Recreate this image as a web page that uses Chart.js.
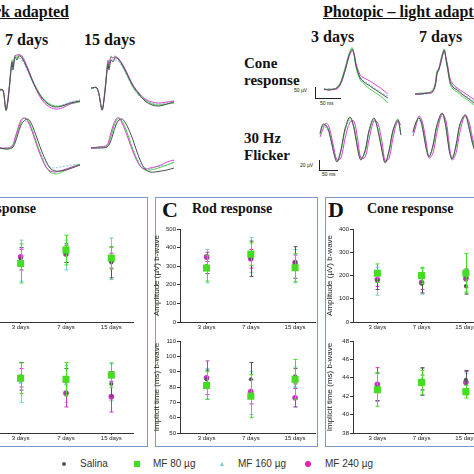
<!DOCTYPE html>
<html>
<head>
<meta charset="utf-8">
<script src="https://cdn.jsdelivr.net/npm/chart.js@4.4.1/dist/chart.umd.min.js"></script>
<style>
  body { margin: 0; background: #fff; }
  #fig { position: relative; width: 474px; height: 474px; overflow: hidden; background: #fff; }
  #fig canvas { position: absolute; }
  .t { position: absolute; white-space: nowrap; line-height: 1; color: #111; }
  .serif { font-family: 'Liberation Serif', 'DejaVu Serif', serif; }
  .sans { font-family: 'Liberation Sans', Arial, sans-serif; }
  .box { position: absolute; border: 1.5px solid #7d97c6; }
  .bar { position: absolute; background: #222; }
</style>
</head>
<body>
<div id="fig">
  <!-- headers -->
  <div class="t serif" style="right:405px;top:4px;font-size:16px;font-weight:bold;text-decoration:underline">Scotopic – dark adapted</div>
  <div class="t serif" style="left:5px;top:32px;font-size:16px;font-weight:bold">7 days</div>
  <div class="t serif" style="left:84px;top:32px;font-size:16px;font-weight:bold">15 days</div>
  <div class="t serif" style="left:323px;top:4px;font-size:16px;font-weight:bold;text-decoration:underline">Photopic – light adapted</div>
  <div class="t serif" style="left:311px;top:29px;font-size:16px;font-weight:bold">3 days</div>
  <div class="t serif" style="left:419px;top:29px;font-size:16px;font-weight:bold">7 days</div>
  <div class="t serif" style="left:244px;top:55px;font-size:15px;font-weight:bold;line-height:17px">Cone<br>response</div>
  <div class="t serif" style="left:244px;top:130px;font-size:15px;font-weight:bold;line-height:17px">30 Hz<br>Flicker</div>

  <!-- scale bars -->
  <div class="bar" style="left:315px;top:87px;width:1px;height:11px"></div>
  <div class="bar" style="left:315px;top:98px;width:26px;height:1px"></div>
  <div class="t sans" style="left:294px;top:88px;font-size:5px">50 µV</div>
  <div class="t sans" style="left:320px;top:101px;font-size:5px">50 ms</div>
  <div class="bar" style="left:319px;top:160px;width:1px;height:10px"></div>
  <div class="bar" style="left:319px;top:170px;width:19px;height:1px"></div>
  <div class="t sans" style="left:300px;top:163px;font-size:5px">20 µV</div>
  <div class="t sans" style="left:322px;top:172px;font-size:5px">50 ms</div>

  <!-- panel boxes -->
  <div class="box" style="left:-6px;top:197px;width:152px;height:248px"></div>
  <div class="box" style="left:155px;top:197px;width:161px;height:248px"></div>
  <div class="box" style="left:325px;top:197px;width:160px;height:248px"></div>
  <div class="t serif" style="right:438px;top:202px;font-size:14px;font-weight:bold">Mixed response</div>
  <div class="t serif" style="left:162px;top:199px;font-size:22px;font-weight:bold">C</div>
  <div class="t serif" style="left:192px;top:202px;font-size:14px;font-weight:bold">Rod response</div>
  <div class="t serif" style="left:328px;top:199px;font-size:22px;font-weight:bold">D</div>
  <div class="t serif" style="left:367px;top:202px;font-size:14px;font-weight:bold">Cone response</div>

  <!-- legend -->
  <div style="position:absolute;left:62px;top:462px;width:4px;height:4px;border-radius:50%;background:#555"></div>
  <div class="t sans" style="left:80px;top:459px;font-size:10px;color:#333">Salina</div>
  <div style="position:absolute;left:134px;top:461px;width:6px;height:6px;background:#44dd22"></div>
  <div class="t sans" style="left:153px;top:459px;font-size:10px;color:#333">MF 80 µg</div>
  <div style="position:absolute;left:220px;top:462px;width:0;height:0;border-left:2.5px solid transparent;border-right:2.5px solid transparent;border-bottom:4px solid #77cccc"></div>
  <div class="t sans" style="left:238px;top:459px;font-size:10px;color:#333">MF 160 µg</div>
  <div style="position:absolute;left:305px;top:461px;width:6px;height:6px;border-radius:50%;background:#dd22bb"></div>
  <div class="t sans" style="left:325px;top:459px;font-size:10px;color:#333">MF 240 µg</div>
</div>

<script>
// ---- summary data: [Salina, MF 80, MF 160, MF 240] x [3, 7, 15 days]
const days = ['3 days', '7 days', '15 days'];
const groups = ['Salina', 'MF 80 µg', 'MF 160 µg', 'MF 240 µg'];

const mixAmpMean = [[340, 370, 320], [315, 387, 344], [330, 360, 340], [351, 365, 330]];
const mixAmpErr = [[60, 50, 83], [105, 80, 60], [110, 80, 112], [40, 45, 40]];
const mixTimeMean = [[87, 84, 82], [85.7, 85, 87.8], [83, 82, 83], [86, 76, 73.7]];
const mixTimeErr = [[9, 8, 8], [10, 11, 8], [13, 12, 12], [6, 9, 10]];

const rodAmpMean = [[300, 340, 320], [290, 365, 292], [300, 360, 300], [350, 340, 320]];
const rodAmpErr = [[40, 95, 85], [70, 60, 75], [90, 95, 90], [25, 50, 40]];
const rodTimeMean = [[85, 85, 87], [81, 74, 85], [82, 76, 80], [86, 77, 73]];
const rodTimeErr = [[6, 11, 5], [9, 14, 13], [10, 14, 13], [11, 8, 6]];

const coneAmpMean = [[180, 165, 155], [210, 200, 210], [175, 175, 180], [183, 170, 187]];
const coneAmpErr = [[40, 40, 35], [40, 35, 85], [60, 55, 50], [30, 30, 40]];
const coneTimeMean = [[43.0, 43.6, 43.8], [42.7, 43.5, 42.5], [43.0, 43.8, 43.3], [43.3, 43.5, 43.5]];
const coneTimeErr = [[1.5, 1.5, 1.0], [1.8, 1.3, 0.7], [1.5, 1.2, 1.2], [1.8, 0.8, 1.2]];

// ---- ERG traces (ms, µV), order [Salina, MF 80, MF 160, MF 240]
const scot7Time = [0, 6, 12, 16, 20, 24, 26, 30, 34, 38, 44, 54, 64, 74, 84, 96, 110, 124, 140, 160];
const scot7 = [
  [0, 0, -100, -50, 50, 140, 100, 165, 150, 170, 160, 110, 50, 0, -40, -70, -85, -80, -65, -55],
  [5, 0, -105, -40, 60, 150, 120, 175, 160, 180, 165, 115, 55, 5, -35, -65, -80, -80, -70, -60],
  [0, -5, -95, -45, 40, 130, 110, 150, 155, 160, 150, 100, 45, -5, -45, -70, -80, -75, -60, -50],
  [0, 0, -100, -55, 45, 135, 115, 170, 175, 175, 170, 120, 55, -5, -50, -80, -95, -90, -70, -55]
];
const scot15Time = [0, 12, 22, 26, 30, 34, 36, 40, 44, 48, 54, 64, 74, 84, 96, 108, 122, 136, 152, 166];
const scot15 = [
  [0, 0, -110, -60, 30, 120, 90, 140, 130, 150, 145, 110, 60, 10, -30, -65, -85, -90, -80, -70],
  [-5, 0, -105, -50, 50, 140, 110, 160, 150, 160, 150, 105, 55, 5, -35, -60, -80, -85, -80, -75],
  [0, 0, -100, -55, 35, 125, 95, 135, 140, 140, 135, 100, 50, 0, -40, -60, -75, -80, -75, -65],
  [0, 0, -110, -60, 40, 135, 120, 155, 150, 155, 150, 115, 65, 15, -25, -55, -70, -75, -70, -65]
];
const rod7Time = [0, 12, 24, 30, 36, 42, 48, 54, 60, 68, 76, 84, 92, 100, 110, 120, 132, 144, 160];
const rod7 = [
  [0, -5, 0, 25, 70, 115, 135, 145, 135, 90, 35, -20, -65, -100, -115, -115, -110, -100, -85],
  [0, -5, 5, 40, 90, 130, 150, 145, 120, 65, 5, -50, -95, -120, -130, -125, -110, -95, -80],
  [0, 0, 5, 35, 80, 120, 135, 130, 110, 60, 5, -40, -75, -95, -100, -95, -90, -85, -80],
  [0, 0, 10, 50, 100, 140, 150, 140, 110, 55, -5, -55, -95, -115, -120, -115, -105, -95, -85]
];
const rod15Time = [0, 16, 32, 38, 44, 50, 56, 62, 68, 76, 84, 92, 100, 108, 118, 128, 140, 152, 166];
const rod15 = [
  [0, 0, 5, 25, 70, 115, 140, 145, 130, 90, 40, -20, -70, -105, -120, -120, -115, -110, -100],
  [0, 5, 10, 45, 95, 135, 150, 135, 105, 50, -10, -60, -95, -110, -110, -105, -95, -85, -70],
  [0, 0, 5, 35, 85, 125, 140, 130, 100, 50, -5, -50, -85, -100, -105, -95, -90, -85, -75],
  [0, 5, 15, 60, 110, 145, 150, 125, 90, 35, -20, -65, -95, -105, -100, -95, -85, -70, -60]
];
const cone3Time = [0, 9, 19, 24, 30, 35, 41, 46, 52, 56, 59, 67, 74, 85, 96, 107, 118];
const cone3 = [
  [0, -4, 0, 4, 20, 48, 92, 132, 160, 136, 96, 44, 28, 12, -4, -20, -36],
  [-4, 0, 0, 8, 24, 56, 100, 140, 165, 130, 88, 36, 20, 0, -16, -32, -56],
  [0, 0, -4, 4, 16, 44, 88, 128, 156, 132, 92, 48, 32, 16, 0, -16, -28],
  [0, -4, 0, 0, 16, 44, 88, 128, 152, 140, 104, 56, 44, 32, 16, 0, -20]
];
const cone7Time = [0, 11, 22, 31, 37, 41, 44, 48, 54, 57, 61, 65, 70, 78, 89, 100, 111];
const cone7 = [
  [0, 0, 4, 8, 32, 88, 96, 128, 176, 144, 96, 48, 28, 16, -4, -20, -40],
  [0, 4, 4, 12, 40, 96, 100, 140, 180, 140, 88, 40, 20, 8, -12, -28, -48],
  [0, 0, 0, 8, 28, 84, 92, 124, 168, 148, 100, 52, 32, 20, 0, -16, -32],
  [0, 0, 4, 4, 28, 80, 100, 136, 172, 150, 108, 60, 40, 24, 8, -8, -24]
];
const flick3Time = [0, 7, 14, 21, 30, 39, 48, 58, 69, 78, 87, 94, 104, 113, 124, 133, 143, 150, 159, 168, 179, 186];
const flick3 = [
  [14, 32, 28, 16, -20, -44, -20, 24, 46, 24, -20, -40, -20, 20, 44, 20, -24, -46, -20, 20, 40, 10],
  [10, 30, 30, 18, -16, -42, -24, 20, 44, 28, -16, -38, -24, 16, 42, 24, -20, -44, -24, 16, 42, 14],
  [12, 28, 24, 14, -18, -40, -22, 22, 40, 24, -18, -36, -22, 18, 40, 22, -20, -42, -22, 18, 36, 12],
  [6, 22, 34, 26, -8, -40, -36, 4, 36, 38, 0, -36, -34, 2, 38, 34, -6, -42, -36, 4, 38, 30]
];
const flick7Time = [0, 7, 14, 21, 30, 37, 46, 55, 67, 76, 83, 90, 99, 108, 120, 129, 136, 143];
const flick7 = [
  [12, 32, 40, 24, -20, -38, -14, 26, 50, 20, -24, -42, -14, 28, 46, 20, -8, -28],
  [10, 30, 42, 28, -16, -36, -18, 22, 48, 24, -20, -40, -18, 24, 44, 24, -4, -24],
  [12, 30, 36, 22, -18, -34, -14, 24, 44, 20, -20, -38, -14, 26, 42, 18, -8, -26],
  [4, 24, 44, 34, -6, -40, -30, 10, 48, 34, -10, -44, -30, 12, 46, 32, 4, -20]
];

Chart.defaults.font.family = "'Liberation Sans', Arial, sans-serif";

const dotColors = ['#555555', '#44dd22', '#77cccc', '#c833c0'];
const dotStyles = ['circle', 'rect', 'triangle', 'circle'];
const dotSizes = [2, 5, 2.6, 2.8];
const dotOrder = [1, 0, 3, 2];
const lineColors = ['#505050', '#4fd24f', '#7cc8dc', '#d447d0'];
const lineOrder = [0, 2, 3, 1];

const errorBars = {
  id: 'errorBars',
  beforeDatasetDraw(chart, args) {
    const ds = chart.data.datasets[args.index];
    if (!ds.errors) return;
    const { ctx } = chart;
    const xs = chart.scales.x, ys = chart.scales.y;
    ctx.save();
    ctx.strokeStyle = ds.borderColor;
    ctx.lineWidth = 1;
    ds.data.forEach((p, i) => {
      const px = Math.round(xs.getPixelForValue(p.x)) + 0.5;
      const top = ys.getPixelForValue(p.y + ds.errors[i]);
      const bot = ys.getPixelForValue(p.y - ds.errors[i]);
      ctx.beginPath();
      ctx.moveTo(px, top); ctx.lineTo(px, bot);
      ctx.moveTo(px - 2, top); ctx.lineTo(px + 2, top);
      ctx.moveTo(px - 2, bot); ctx.lineTo(px + 2, bot);
      ctx.stroke();
    });
    ctx.restore();
  }
};

function addCanvas(left, top, w, h) {
  const c = document.createElement('canvas');
  c.width = w; c.height = h;
  c.style.left = left + 'px'; c.style.top = top + 'px';
  document.getElementById('fig').appendChild(c);
  return c;
}

function statChart(left, top, w, h, padTop, xAxisH, xMin, xMax, yMin, yMax, yStep, yTitle, means, errs) {
  new Chart(addCanvas(left, top, w, h), {
    type: 'scatter',
    data: {
      datasets: groups.map((g, k) => ({
        label: g,
        data: means[k].map((v, i) => ({ x: i + 1, y: v })),
        errors: errs[k],
        pointStyle: dotStyles[k],
        pointRadius: dotSizes[k],
        backgroundColor: dotColors[k],
        borderColor: dotColors[k],
        borderWidth: 0,
        order: dotOrder[k]
      }))
    },
    options: {
      responsive: false,
      animation: false,
      devicePixelRatio: 1,
      layout: { padding: { top: padTop, right: 3 } },
      plugins: { legend: { display: false }, tooltip: { enabled: false } },
      scales: {
        x: {
          type: 'linear', min: xMin, max: xMax,
          afterBuildTicks: s => { s.ticks = days.map((d, i) => ({ value: i + 1 })); },
          afterFit: s => { s.height = xAxisH; },
          grid: { drawOnChartArea: false, tickLength: 2, color: '#333' },
          border: { color: '#333', width: 1 },
          ticks: { callback: v => days[v - 1], font: { size: 6 }, color: '#222', padding: 0, maxRotation: 0, autoSkip: false }
        },
        y: {
          min: yMin, max: yMax,
          afterFit: s => { s.width = 30; },
          grid: { drawOnChartArea: false, tickLength: 3, color: '#333' },
          border: { color: '#333', width: 1 },
          ticks: { stepSize: yStep, font: { size: 6 }, color: '#222', padding: 1 },
          title: { display: true, text: yTitle, font: { size: 8 }, color: '#222', padding: { top: 2, bottom: 1 } }
        }
      }
    },
    plugins: [errorBars]
  });
}

function traceChart(left, top, w, h, xMin, xMax, yMin, yMax, times, lines) {
  new Chart(addCanvas(left, top, w, h), {
    type: 'line',
    data: {
      datasets: lines.map((vals, k) => ({
        data: times.map((t, i) => ({ x: t, y: vals[i] })),
        borderColor: lineColors[k],
        borderWidth: 1,
        borderDash: k === 2 ? [2, 1.5] : [],
        pointRadius: 0,
        tension: 0.35,
        order: lineOrder[k]
      }))
    },
    options: {
      responsive: false,
      animation: false,
      devicePixelRatio: 1,
      plugins: { legend: { display: false }, tooltip: { enabled: false } },
      scales: {
        x: { type: 'linear', display: false, min: xMin, max: xMax },
        y: { display: false, min: yMin, max: yMax }
      }
    }
  });
}

// ERG traces
traceChart(0, 50, 82, 70, 0, 164, -150, 200, scot7Time, scot7);
traceChart(90, 50, 86, 70, -2, 170, -160, 190, scot15Time, scot15);
traceChart(0, 112, 82, 66, 0, 164, -150, 180, rod7Time, rod7);
traceChart(90, 112, 86, 66, -2, 170, -150, 180, rod15Time, rod15);
traceChart(320, 44, 72, 64, -7.4, 125.8, -76, 180, cone3Time, cone3);
traceChart(410, 44, 64, 64, -9.25, 109.15, -56, 200, cone7Time, cone7);
traceChart(316, 110, 88, 60, -9.2, 193.2, -60, 60, flick3Time, flick3);
traceChart(410, 108, 64, 62, -6.9, 140.3, -64, 60, flick7Time, flick7);

// summary plots
const ampTitle = 'Amplitude (µV) b-wave';
const timeTitle = 'Implicit time (ms) b-wave';
statChart(-36, 222, 174, 116, 7, 16, 0.413, 3.478, 0, 500, 100, ampTitle, mixAmpMean, mixAmpErr);
statChart(-36, 336, 174, 110, 5, 13, 0.413, 3.478, 50, 110, 10, timeTitle, mixTimeMean, mixTimeErr);
statChart(150, 222, 170, 116, 7, 16, 0.4, 3.45, 0, 500, 100, ampTitle, rodAmpMean, rodAmpErr);
statChart(150, 336, 170, 110, 5, 13, 0.4, 3.45, 50, 110, 10, timeTitle, rodTimeMean, rodTimeErr);
statChart(323, 222, 170, 116, 7, 16, 0.45, 3.5, 0, 400, 100, ampTitle, coneAmpMean, coneAmpErr);
statChart(323, 336, 170, 110, 5, 13, 0.45, 3.5, 38, 48, 2, timeTitle, coneTimeMean, coneTimeErr);
</script>
</body>
</html>
